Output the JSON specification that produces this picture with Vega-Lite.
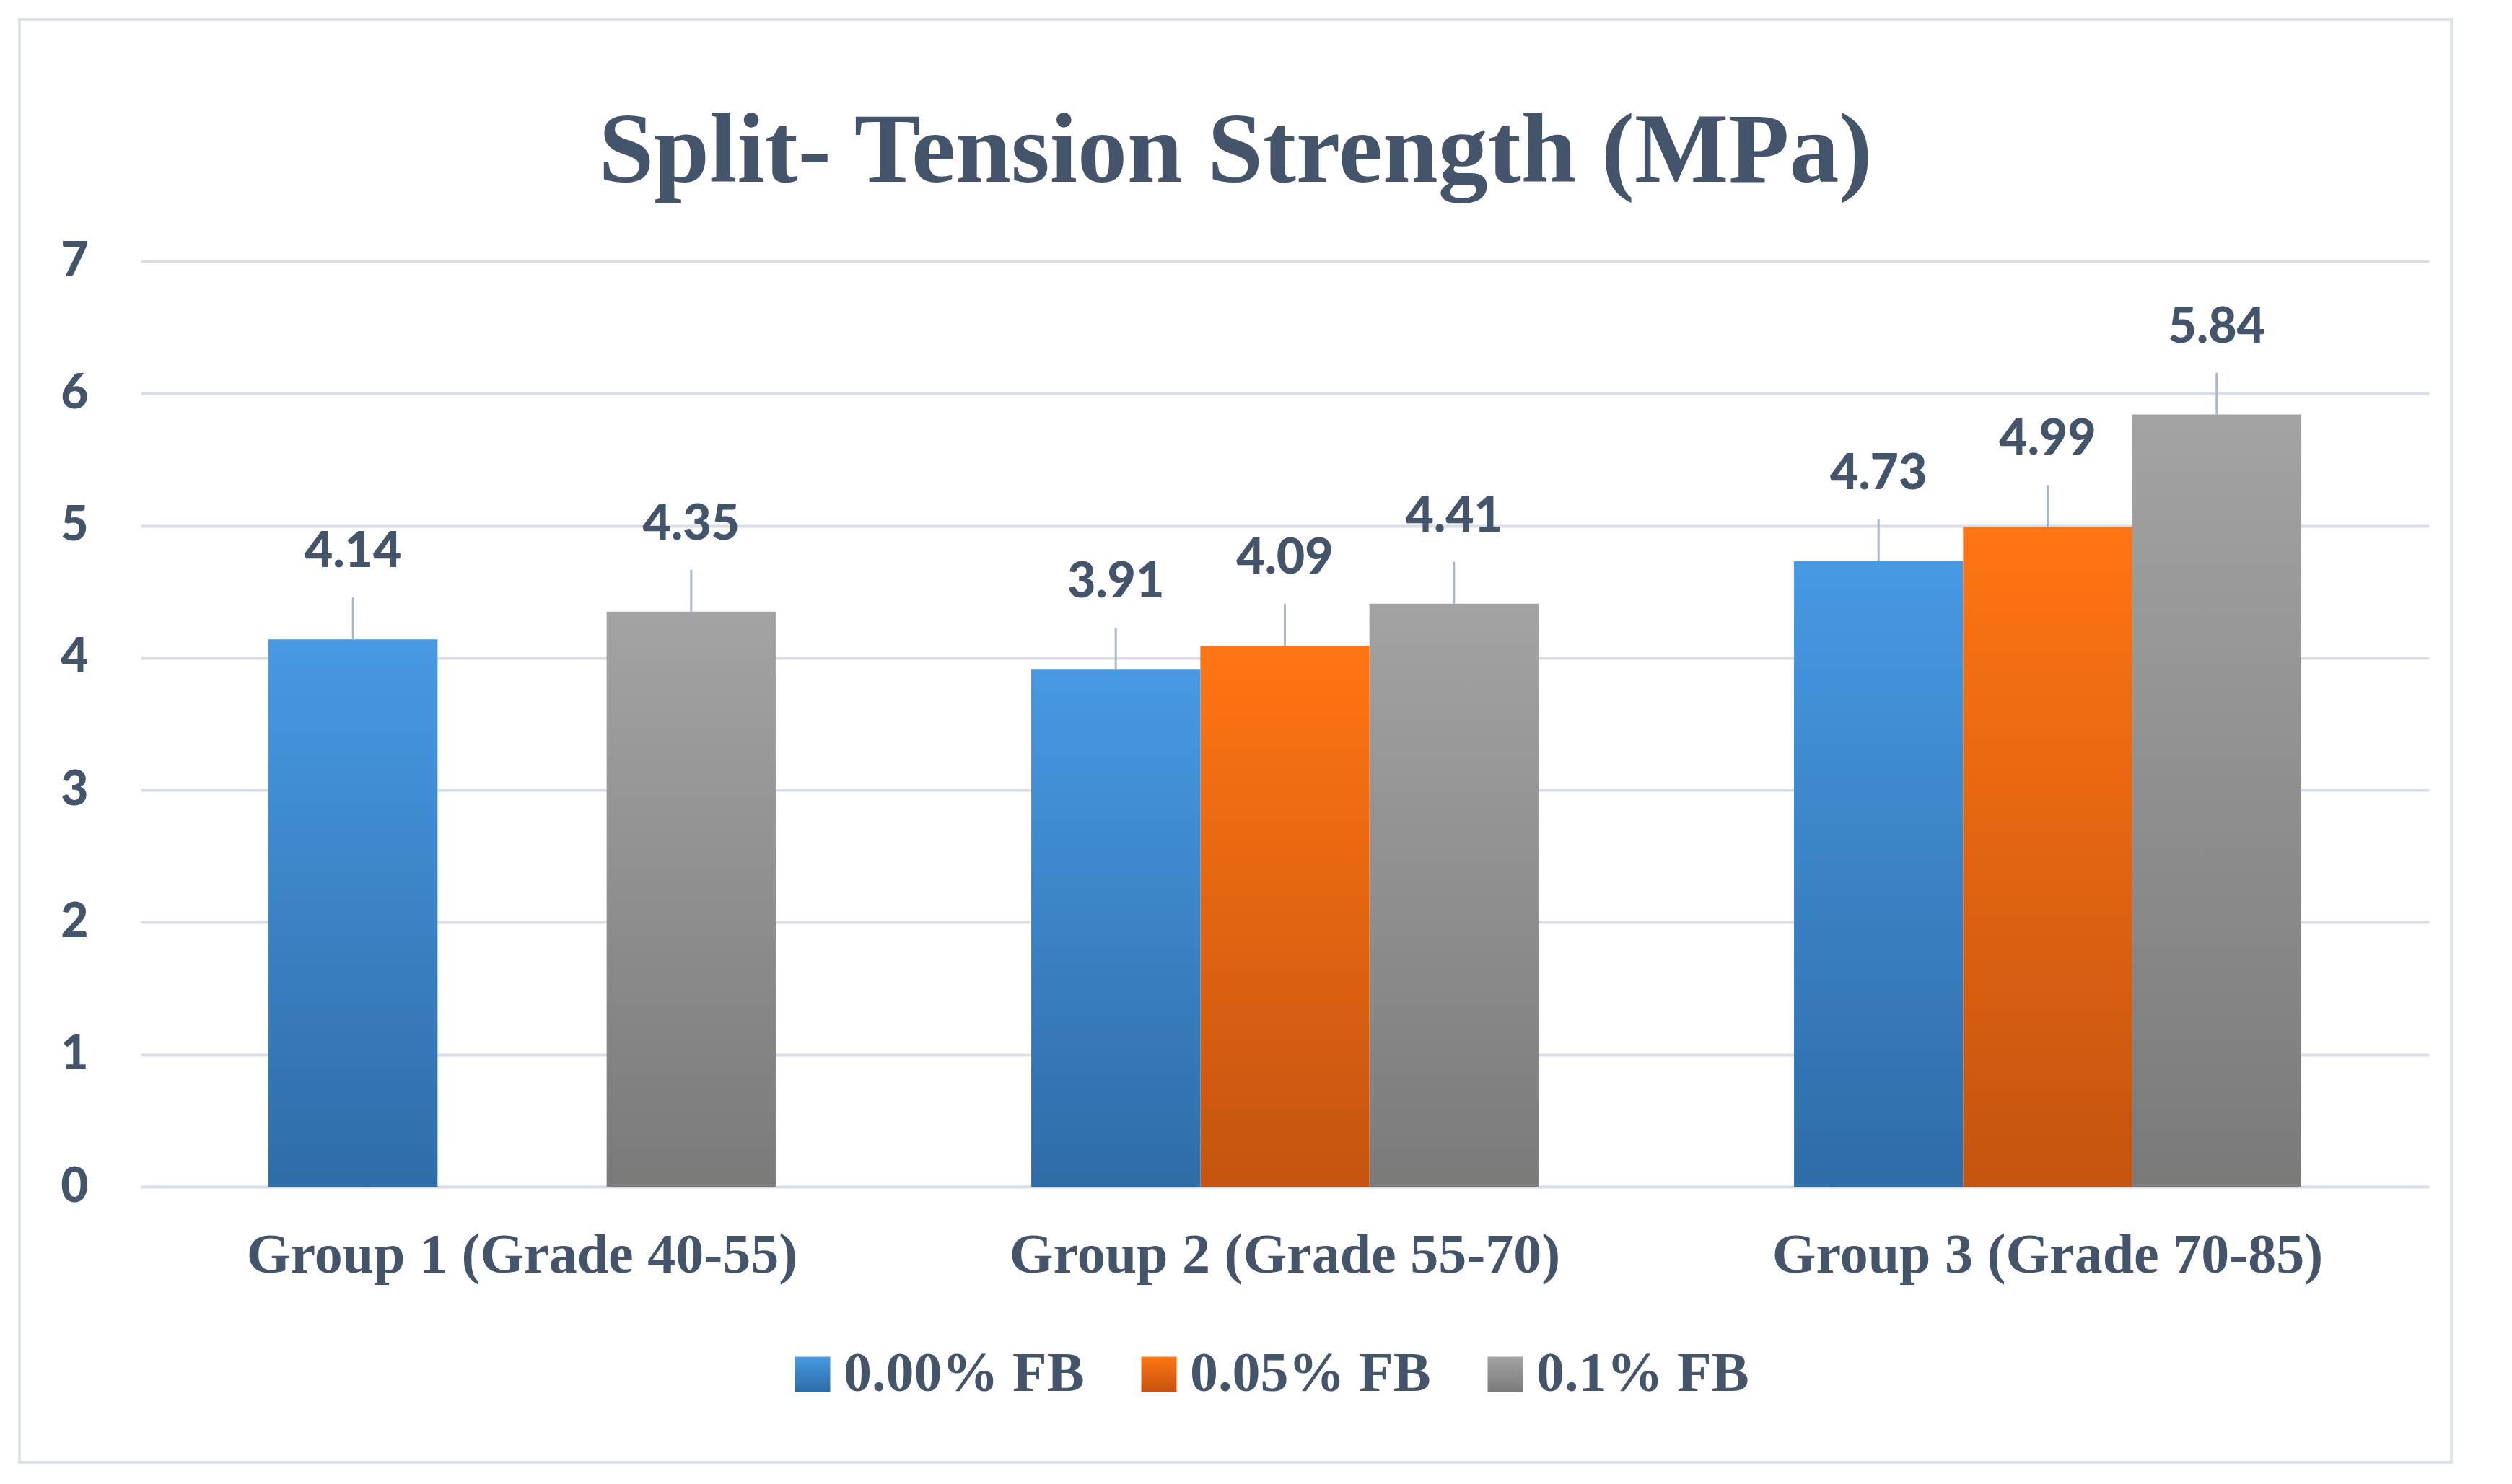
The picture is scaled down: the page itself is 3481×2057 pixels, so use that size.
{
  "$schema": "https://vega.github.io/schema/vega-lite/v6.json",
  "description": "Split-tension strength (MPa) by concrete group and fibre dosage.",
  "width": 3370,
  "height": 2000,
  "autosize": {"type": "none"},
  "padding": {"left": 27, "top": 27, "right": 84, "bottom": 30},
  "background": "white",
  "config": {
    "view": {"stroke": "#DCE1EA", "strokeWidth": 4}
  },
  "title": {
    "text": "Split- Tension Strength (MPa)",
    "font": "Liberation Serif",
    "fontSize": 138,
    "fontWeight": "bold",
    "color": "#44546A",
    "anchor": "middle",
    "frame": "group",
    "baseline": "alphabetic",
    "offset": -133,
    "dy": 230
  },
  "data": {
    "values": [
      {"group": "Group 1 (Grade 40-55)", "series": "0.00% FB", "value": 4.14},
      {"group": "Group 1 (Grade 40-55)", "series": "0.1% FB", "value": 4.35},
      {"group": "Group 2 (Grade 55-70)", "series": "0.00% FB", "value": 3.91},
      {"group": "Group 2 (Grade 55-70)", "series": "0.05% FB", "value": 4.09},
      {"group": "Group 2 (Grade 55-70)", "series": "0.1% FB", "value": 4.41},
      {"group": "Group 3 (Grade 70-85)", "series": "0.00% FB", "value": 4.73},
      {"group": "Group 3 (Grade 70-85)", "series": "0.05% FB", "value": 4.99},
      {"group": "Group 3 (Grade 70-85)", "series": "0.1% FB", "value": 5.84}
    ]
  },
  "encoding": {
    "x": {
      "field": "group",
      "type": "nominal",
      "sort": null,
      "scale": {"range": [168, 3339], "paddingInner": 0.335, "paddingOuter": 0.1675},
      "axis": {
        "title": null,
        "domain": false,
        "ticks": false,
        "grid": false,
        "offset": -382,
        "labelPadding": 56,
        "labelAngle": 0,
        "labelLimit": 0,
        "labelFont": "Liberation Serif",
        "labelFontWeight": "bold",
        "labelFontSize": 78,
        "labelColor": "#44546A"
      }
    },
    "xOffset": {
      "field": "series",
      "type": "nominal",
      "scale": {"domain": ["0.00% FB", "0.05% FB", "0.1% FB"], "paddingInner": 0, "paddingOuter": 0}
    },
    "y": {
      "field": "value",
      "type": "quantitative",
      "scale": {"domain": [0, 7], "range": [1618, 335], "nice": false},
      "axis": {
        "title": null,
        "values": [0, 1, 2, 3, 4, 5, 6, 7],
        "domain": false,
        "ticks": false,
        "offset": -168,
        "labelPadding": 73,
        "labelFont": "Lato",
        "labelFontWeight": 900,
        "labelFontSize": 66,
        "labelColor": "#44546A",
        "grid": true,
        "gridColor": "#D9DDE5",
        "gridWidth": 4
      }
    }
  },
  "layer": [
    {
      "mark": {"type": "bar"},
      "encoding": {
        "color": {
          "field": "series",
          "type": "nominal",
          "scale": {
            "domain": ["0.00% FB", "0.05% FB", "0.1% FB"],
            "range": [
              {"expr": "{gradient: 'linear', x1: 0, y1: 0, x2: 0, y2: 1, stops: [{offset: 0, color: '#4799E3'}, {offset: 1, color: '#2E6CA7'}]}"},
              {"expr": "{gradient: 'linear', x1: 0, y1: 0, x2: 0, y2: 1, stops: [{offset: 0, color: '#FF7513'}, {offset: 1, color: '#C4540F'}]}"},
              {"expr": "{gradient: 'linear', x1: 0, y1: 0, x2: 0, y2: 1, stops: [{offset: 0, color: '#A3A3A3'}, {offset: 1, color: '#7A7A7A'}]}"}
            ]
          },
          "legend": {
            "title": null,
            "orient": "none",
            "direction": "horizontal",
            "legendX": 1060,
            "legendY": 1839,
            "symbolType": "square",
            "symbolSize": 2400,
            "symbolStrokeWidth": 0,
            "labelFont": "Liberation Serif",
            "labelFontWeight": "bold",
            "labelFontSize": 78,
            "labelColor": "#44546A",
            "labelOffset": 4,
            "labelLimit": 0,
            "columnPadding": 64
          }
        }
      }
    },
    {
      "mark": {"type": "rule", "y2Offset": -58, "color": "#A9B6C8", "strokeWidth": 3},
      "encoding": {"y2": {"field": "value"}}
    },
    {
      "mark": {
        "type": "text",
        "dy": -100,
        "baseline": "alphabetic",
        "align": "center",
        "font": "Lato",
        "fontWeight": 900,
        "fontSize": 68,
        "color": "#44546A"
      },
      "encoding": {"text": {"field": "value", "type": "quantitative", "format": ".2f"}}
    }
  ]
}
